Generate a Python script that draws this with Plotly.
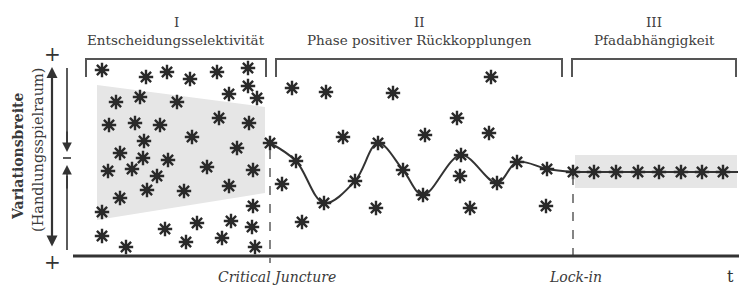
import plotly.graph_objects as go

# ---------------- data (pixel-space coordinates) ----------------
phase1_x = [102, 146, 167, 190, 217, 248, 248, 229, 257, 116, 140, 177, 109, 135, 160, 219, 249,
            144, 192, 237, 120, 143, 168, 108, 132, 157, 207, 253, 147, 184, 229, 120, 102, 253,
            102, 126, 165, 197, 231, 252, 186, 222, 255]
phase1_y = [70, 77, 72, 79, 72, 68, 86, 94, 98, 102, 97, 102, 125, 123, 125, 118, 123,
            141, 137, 148, 153, 158, 160, 171, 169, 176, 167, 170, 190, 191, 186, 198, 212, 206,
            236, 247, 229, 223, 221, 227, 242, 238, 247]

phase2_x = [292, 326, 393, 343, 282, 302, 376, 425, 491, 457, 489, 460, 470, 546]
phase2_y = [88, 92, 93, 137, 184, 222, 208, 135, 77, 118, 133, 176, 208, 206]

curve_x = [270, 296, 324, 355, 378, 403, 423, 461, 497, 517, 547, 573]
curve_y = [143, 161, 203, 181, 143, 170, 195, 155, 183, 162, 169, 172]

phase3_x = [594, 616, 638, 659, 681, 702, 723]
phase3_y = [172, 172, 172, 172, 172, 172, 172]

phase_numbers = ["I", "II", "III"]
phase_names = ["Entscheidungsselektivität", "Phase positiver Rückkopplungen", "Pfadabhängigkeit"]
phase_bounds = [(86, 266), (276, 562), (572, 736)]

critical_juncture_x = 270
lock_in_x = 573
y_title = "Variationsbreite"
y_subtitle = "(Handlungsspielraum)"

# ---------------- figure ----------------
W, H = 739, 286
STAR = "#2a2a2a"
GRAY_TXT = "#404040"
SERIF = "DejaVu Serif, Liberation Serif, serif"

fig = go.Figure()


def add_stars(xs, ys):
    fig.add_trace(go.Scatter(x=xs, y=ys, mode="markers", hoverinfo="skip",
                             marker=dict(symbol="asterisk-open", size=12, color=STAR,
                                         line=dict(color=STAR, width=2.4))))
    fig.add_trace(go.Scatter(x=xs, y=ys, mode="markers", hoverinfo="skip",
                             marker=dict(symbol="circle", size=5, color=STAR,
                                         line=dict(width=0))))


# curve of phase II
fig.add_trace(go.Scatter(x=curve_x, y=curve_y, mode="lines", hoverinfo="skip",
                         line=dict(color="#333333", width=2, shape="spline", smoothing=1.0)))
# line of phase III
fig.add_trace(go.Scatter(x=[curve_x[-1]] + phase3_x + [738], y=[curve_y[-1]] + phase3_y + [172],
                         mode="lines", hoverinfo="skip", line=dict(color="#333333", width=2)))

add_stars(phase1_x, phase1_y)
add_stars(phase2_x, phase2_y)
add_stars(curve_x, curve_y)
add_stars(phase3_x, phase3_y)

shapes = []
# shaded regions
shapes.append(dict(type="path", path="M 97,85 L 265,107 L 265,193 L 97,220 Z",
                   fillcolor="#e6e6e6", line=dict(width=0), layer="below"))
shapes.append(dict(type="rect", x0=575, x1=737, y0=155, y1=188,
                   fillcolor="#e6e6e6", line=dict(width=0), layer="below"))
# brackets
for (a, b) in phase_bounds:
    shapes.append(dict(type="path", path=f"M {a},77 L {a},59 L {b},59 L {b},77",
                       line=dict(color="#555555", width=2)))
# dashed verticals
shapes.append(dict(type="line", x0=critical_juncture_x, x1=critical_juncture_x, y0=150, y1=263,
                   line=dict(color="#666666", width=1.6, dash="dash")))
shapes.append(dict(type="line", x0=lock_in_x, x1=lock_in_x, y0=176, y1=263,
                   line=dict(color="#666666", width=1.6, dash="dash")))
# x axis
shapes.append(dict(type="line", x0=73, x1=739, y0=256, y1=256,
                   line=dict(color="#333333", width=3)))
# short vertical lines (left)
shapes.append(dict(type="line", x0=67, x1=67, y0=68, y1=145, line=dict(color="#333333", width=1.6)))
shapes.append(dict(type="line", x0=67, x1=67, y0=176, y1=250, line=dict(color="#333333", width=1.6)))
shapes.append(dict(type="line", x0=63, x1=71, y0=158, y1=158, line=dict(color="#333333", width=1.6)))

annotations = []
# double-headed vertical arrow
annotations.append(dict(x=52, y=67, ax=52, ay=248, xref="x", yref="y", axref="x", ayref="y",
                        text="", showarrow=True, arrowhead=2, arrowsize=1, arrowwidth=2.2,
                        arrowside="end+start", arrowcolor="#333333"))
# small arrows on the thin line
annotations.append(dict(x=67, y=152, ax=67, ay=130, xref="x", yref="y", axref="x", ayref="y",
                        text="", showarrow=True, arrowhead=2, arrowsize=1.2, arrowwidth=1.6,
                        arrowcolor="#333333"))
annotations.append(dict(x=67, y=165, ax=67, ay=190, xref="x", yref="y", axref="x", ayref="y",
                        text="", showarrow=True, arrowhead=2, arrowsize=1.2, arrowwidth=1.6,
                        arrowcolor="#333333"))
# plus signs
for yy in (54, 262):
    annotations.append(dict(x=52, y=yy, text="+", showarrow=False, xref="x", yref="y",
                            font=dict(family=SERIF, size=20, color="#333333")))
# phase titles
for num, name, (a, b) in zip(phase_numbers, phase_names, phase_bounds):
    cx = (a + b) / 2
    annotations.append(dict(x=cx, y=22, text=num, showarrow=False, xref="x", yref="y",
                            font=dict(family=SERIF, size=13.5, color=GRAY_TXT)))
    annotations.append(dict(x=cx, y=40, text=name, showarrow=False, xref="x", yref="y",
                            font=dict(family=SERIF, size=13.5, color=GRAY_TXT)))
# y titles
annotations.append(dict(x=18, y=157, text=f"<b>{y_title}</b>", textangle=-90, showarrow=False,
                        xref="x", yref="y", font=dict(family=SERIF, size=14, color="#3a3a3a")))
annotations.append(dict(x=38, y=150, text=y_subtitle, textangle=-90, showarrow=False,
                        xref="x", yref="y", font=dict(family=SERIF, size=14.5, color="#3a3a3a")))
# x labels
annotations.append(dict(x=277, y=277, text="<i>Critical Juncture</i>", showarrow=False,
                        xref="x", yref="y", font=dict(family=SERIF, size=14, color="#3a3a3a")))
annotations.append(dict(x=575, y=277, text="<i>Lock-in</i>", showarrow=False,
                        xref="x", yref="y", font=dict(family=SERIF, size=14, color="#3a3a3a")))
annotations.append(dict(x=730, y=276, text="t", showarrow=False,
                        xref="x", yref="y", font=dict(family=SERIF, size=16, color="#333333")))

fig.update_layout(
    width=W, height=H, margin=dict(l=0, r=0, t=0, b=0),
    paper_bgcolor="white", plot_bgcolor="white", showlegend=False,
    xaxis=dict(range=[0, W], visible=False, fixedrange=True),
    yaxis=dict(range=[H, 0], visible=False, fixedrange=True),
    shapes=shapes, annotations=annotations,
)

fig.write_html("out.html", config={"displayModeBar": False},
               post_script="document.body.style.margin='0';document.body.style.overflow='hidden';")
